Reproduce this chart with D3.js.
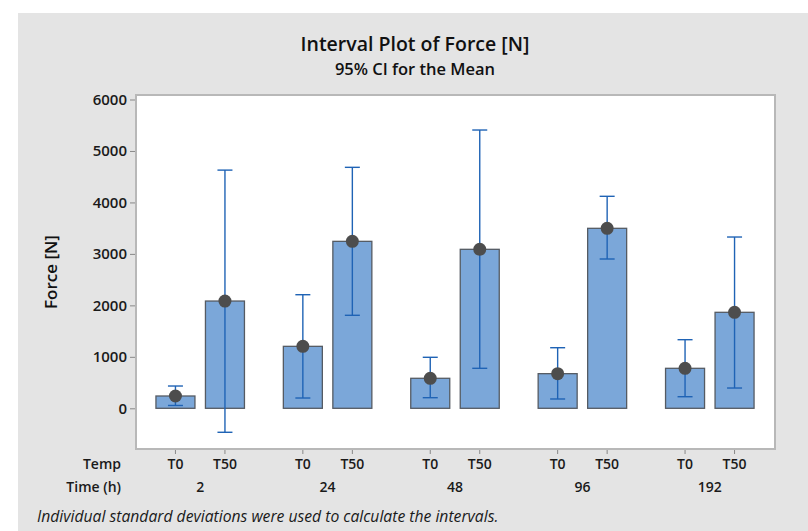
<!DOCTYPE html>
<html><head><meta charset="utf-8">
<script src="https://cdn.jsdelivr.net/npm/d3@7"></script>
<style>body{margin:0;background:#fff}svg{display:block}</style>
</head><body>
<script>
const times = ["2", "24", "48", "96", "192"];
const temps = ["T0", "T50"];
const means = [[239, 2084], [1204, 3244], [583, 3089], [673, 3497], [777, 1865]];
const ciLow = [[55, -466], [200, 1807], [206, 777], [181, 2901], [225, 394]];
const ciHigh = [[433, 4628], [2207, 4682], [991, 5407], [1177, 4119], [1333, 3328]];
const yTicks = [0, 1000, 2000, 3000, 4000, 5000, 6000];

const W = 808, H = 531;
const font = "'Open Sans', 'Noto Sans', sans-serif";
const svg = d3.select("body").append("svg").attr("width", W).attr("height", H);
svg.append("rect").attr("x", 18).attr("y", 13).attr("width", W - 18).attr("height", H - 13).attr("fill", "#e4e4e4");

const L = 136, T = 95, R = 775, B = 449;
const y = d3.scaleLinear().domain([0, 6000]).range([408.3, 99.5]);
const xg = d3.scaleBand().domain(times).range([L + 0.5, R - 1.5]).paddingInner(0).paddingOuter(0);
const xt = d3.scalePoint().domain(temps).range([-24.75, 24.75]);
const bw = 39;

svg.append("rect").attr("x", L).attr("y", T).attr("width", R - L).attr("height", B - T)
  .attr("fill", "#fff").attr("stroke", "#b8b8b8").attr("stroke-width", 2);

const data = [];
times.forEach((t, i) => temps.forEach((p, j) => data.push({t, p, m: means[i][j], lo: ciLow[i][j], hi: ciHigh[i][j]})));
const cx = d => xg(d.t) + xg.bandwidth() / 2 + xt(d.p);

const g = svg.append("g");
g.selectAll("rect.bar").data(data).join("rect").attr("class", "bar")
  .attr("x", d => cx(d) - bw / 2).attr("width", bw)
  .attr("y", d => y(d.m)).attr("height", d => y(0) - y(d.m))
  .attr("fill", "#7ba7d9").attr("stroke", "#555b63").attr("stroke-width", 1.3);

const ec = "#1f63b5";
g.selectAll("line.v").data(data).join("line").attr("class", "v")
  .attr("x1", cx).attr("x2", cx).attr("y1", d => y(d.lo)).attr("y2", d => y(d.hi))
  .attr("stroke", ec).attr("stroke-width", 1.4);
["lo", "hi"].forEach(k => {
  g.selectAll("line.c" + k).data(data).join("line").attr("class", "c" + k)
    .attr("x1", d => cx(d) - 7.5).attr("x2", d => cx(d) + 7.5)
    .attr("y1", d => y(d[k])).attr("y2", d => y(d[k]))
    .attr("stroke", ec).attr("stroke-width", 1.4);
});
g.selectAll("circle").data(data).join("circle")
  .attr("cx", cx).attr("cy", d => y(d.m)).attr("r", 6.5).attr("fill", "#4d4d4d");

const lab = sel => sel.attr("font-family", font).attr("font-size", 14).attr("font-weight", 600).attr("fill", "#1a1a1a");

// y axis
const ya = svg.append("g").attr("transform", `translate(${L - 1},0)`)
  .call(d3.axisLeft(y).tickValues(yTicks).tickSize(5).tickPadding(3).tickFormat(d3.format("d")));
ya.select(".domain").remove();
ya.selectAll("line").attr("stroke", "#888");
ya.selectAll("text").call(lab).attr("font-size", 15);

// x ticks
svg.selectAll("line.xt").data(data).join("line").attr("class", "xt")
  .attr("x1", cx).attr("x2", cx).attr("y1", B + 1).attr("y2", B + 5).attr("stroke", "#888");
svg.selectAll("text.xtl").data(data).join("text").attr("class", "xtl")
  .attr("x", cx).attr("y", 469).attr("text-anchor", "middle").call(lab).text(d => d.p);
svg.selectAll("text.xgl").data(times).join("text").attr("class", "xgl")
  .attr("x", d => xg(d) + xg.bandwidth() / 2).attr("y", 492).attr("text-anchor", "middle").call(lab).text(d => d);
svg.append("text").attr("x", 121).attr("y", 469).attr("text-anchor", "end").call(lab).text("Temp");
svg.append("text").attr("x", 121).attr("y", 492).attr("text-anchor", "end").call(lab).text("Time (h)");

// titles
svg.append("text").attr("x", 415).attr("y", 50.5).attr("text-anchor", "middle")
  .attr("font-family", font).attr("font-size", 19.5).attr("font-weight", 600).attr("fill", "#111").text("Interval Plot of Force [N]");
svg.append("text").attr("x", 415).attr("y", 74.5).attr("text-anchor", "middle")
  .attr("font-family", font).attr("font-size", 16.5).attr("font-weight", 600).attr("fill", "#111").text("95% CI for the Mean");
svg.append("text").attr("transform", "translate(57,272) rotate(-90)").attr("text-anchor", "middle")
  .attr("font-family", font).attr("font-size", 17).attr("font-weight", 600).attr("fill", "#111").text("Force [N]");
svg.append("text").attr("x", 37).attr("y", 522)
  .attr("font-family", font).attr("font-size", 15.7).attr("font-style", "italic").attr("fill", "#1a1a1a")
  .text("Individual standard deviations were used to calculate the intervals.");
</script>
</body></html>
